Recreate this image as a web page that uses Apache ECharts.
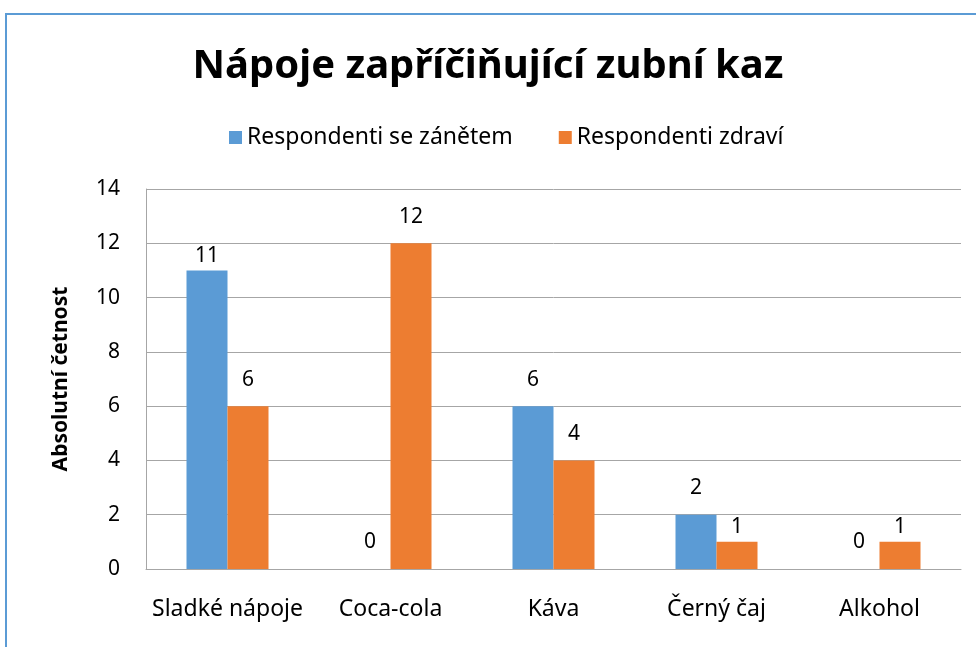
<!DOCTYPE html>
<html>
<head>
<meta charset="utf-8">
<script src="https://cdn.jsdelivr.net/npm/echarts@6/dist/echarts.min.js"></script>
<style>
  html, body { margin: 0; padding: 0; background: #fff; }
  #frame { position: absolute; left: 5px; top: 13px; width: 1000px; height: 700px; border: 2px solid #5B9BD5; box-sizing: border-box; }
  #chart { position: absolute; left: 0; top: 0; width: 976px; height: 647px; }
</style>
</head>
<body>
<div id="frame"></div>
<div id="chart"></div>
<script>
// Drinks and the number of respondents naming each one
const categories = ['Sladké nápoje', 'Coca-cola', 'Káva', 'Černý čaj', 'Alkohol'];
const seriesNames = ['Respondenti se zánětem', 'Respondenti zdraví'];
const inflamed = [11, 0, 6, 2, 0];
const healthy = [6, 12, 4, 1, 1];
const yTicks = { min: 0, max: 14, interval: 2 };

const FONT = '"Noto Sans", sans-serif';

// Labels that sit closer to their bar top
const nearLabel = (value) => value === 11 || value === 1;

function withLabels(values) {
  return values.map(v => ({
    value: v,
    label: { distance: nearLabel(v) ? 4 : 16 }
  }));
}

const chart = echarts.init(document.getElementById('chart'), null, { renderer: 'canvas' });
chart.setOption({
  backgroundColor: 'transparent',
  animation: false,
  textStyle: { fontFamily: FONT },
  title: {
    text: 'Nápoje zapříčiňující zubní kaz',
    left: 'center',
    top: 42,
    textStyle: { fontFamily: FONT, fontSize: 40, fontWeight: 'bold', color: '#000' }
  },
  legend: {
    top: 121,
    left: 224,
    itemWidth: 13,
    itemHeight: 13,
    itemGap: 46,
    icon: 'rect',
    textStyle: { fontFamily: FONT, fontSize: 23, color: '#000' },
    data: seriesNames
  },
  grid: { left: 146, right: 15, top: 189, bottom: 78, containLabel: false },
  xAxis: {
    type: 'category',
    data: categories,
    axisLine: { lineStyle: { color: '#A6A6A6', width: 1 } },
    axisTick: { show: false },
    axisLabel: { interval: 0, hideOverlap: false, fontFamily: FONT, fontSize: 23, color: '#000', margin: 29 }
  },
  yAxis: {
    type: 'value',
    min: yTicks.min,
    max: yTicks.max,
    interval: yTicks.interval,
    name: 'Absolutní četnost',
    nameLocation: 'middle',
    nameGap: 74,
    nameRotate: 90,
    nameTextStyle: { fontFamily: FONT, fontSize: 21, fontWeight: 'bold', color: '#000' },
    axisLine: { show: true, lineStyle: { color: '#A6A6A6', width: 1 } },
    axisTick: { show: false },
    splitLine: { lineStyle: { color: '#A6A6A6', width: 1 } },
    axisLabel: { fontFamily: FONT, fontSize: 21, color: '#000', margin: 26 }
  },
  series: [
    {
      name: seriesNames[0],
      type: 'bar',
      data: withLabels(inflamed),
      barWidth: 41,
      barGap: '0%',
      itemStyle: { color: '#5B9BD5' },
      label: { show: true, position: 'top', fontFamily: FONT, fontSize: 21, color: '#000' }
    },
    {
      name: seriesNames[1],
      type: 'bar',
      data: withLabels(healthy),
      barWidth: 41,
      barGap: '0%',
      itemStyle: { color: '#ED7D31' },
      label: { show: true, position: 'top', fontFamily: FONT, fontSize: 21, color: '#000' }
    }
  ]
});
</script>
</body>
</html>
